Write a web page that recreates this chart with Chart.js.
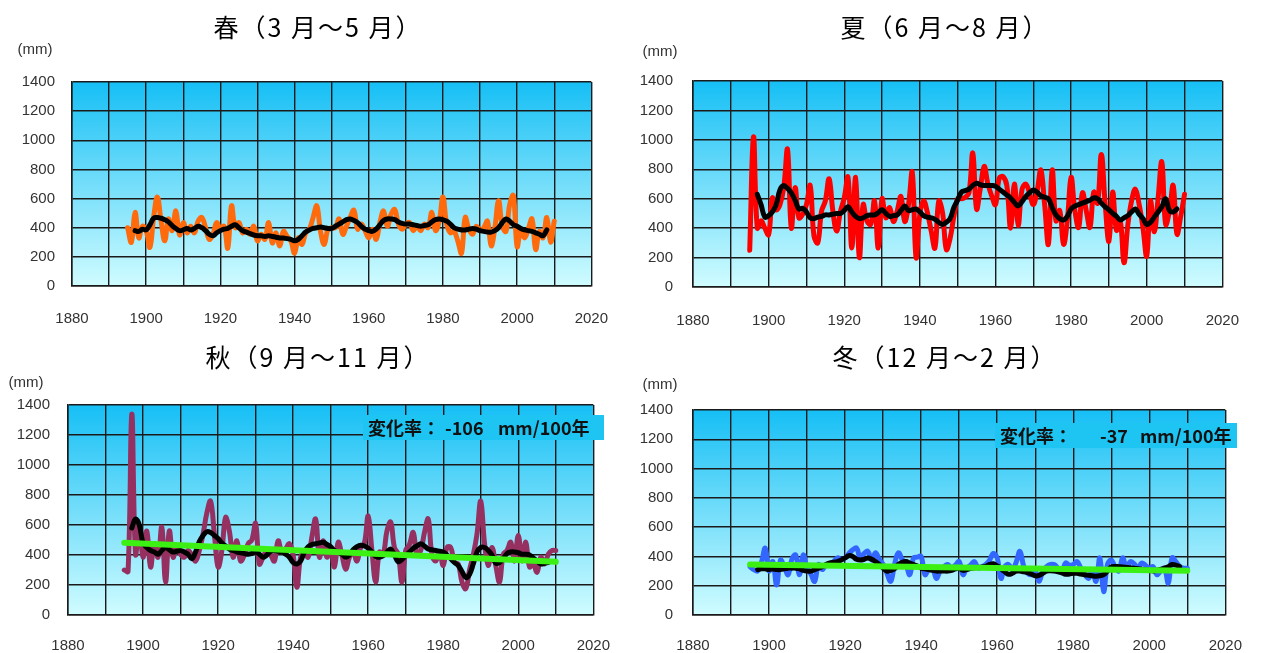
<!DOCTYPE html>
<html>
<head>
<meta charset="utf-8">
<script src="https://cdn.jsdelivr.net/npm/chart.js@4"></script>
<style>
  body { margin: 0; background: #fff; width: 1264px; height: 653px; overflow: hidden; position: relative; }
  canvas { position: absolute; }
</style>
</head>
<body>
<canvas id="spring" width="632" height="330" style="left:0;top:0"></canvas>
<canvas id="summer" width="632" height="330" style="left:632px;top:0"></canvas>
<canvas id="autumn" width="632" height="323" style="left:0;top:330px"></canvas>
<canvas id="winter" width="632" height="323" style="left:632px;top:330px"></canvas>
<script>
// yearly seasonal precipitation (mm), 1895-2010
const firstYear = 1895;
// 5-year running means, 1897-2008
const maFirstYear = 1897;

const springRain = [
  400, 300, 505, 330, 410, 380, 265, 470, 610, 450,
  310, 460, 380, 515, 350, 435, 365, 410, 365, 445,
  470, 400, 320, 355, 435, 390, 410, 260, 550, 400,
  435, 365, 390, 355, 410, 310, 355, 320, 435, 295,
  365, 275, 375, 340, 310, 225, 330, 285, 365, 390,
  470, 550, 375, 285, 390, 400, 400, 460, 355, 410,
  470, 520, 390, 425, 380, 330, 390, 320, 435, 515,
  410, 490, 525, 425, 390, 425, 435, 380, 410, 380,
  425, 400, 505, 380, 445, 610, 425, 365, 375, 310,
  225, 470, 390, 355, 410, 380, 400, 445, 275, 400,
  585, 410, 375, 560, 620, 270, 380, 330, 390, 460,
  250, 375, 330, 470, 300, 445
];
const springAvg = [
  380, 375, 390, 385, 420, 465, 470, 465, 455, 440,
  415, 395, 380, 385, 395, 385, 395, 410, 400, 380,
  355, 345, 365, 380, 390, 395, 410, 420, 400, 380,
  370, 360, 350, 345, 345, 340, 345, 340, 335, 330,
  330, 325, 320, 310, 320, 345, 370, 385, 395, 400,
  405, 400, 395, 395, 410, 425, 440, 455, 460, 450,
  435, 410, 390, 380, 375, 390, 420, 450, 460, 460,
  455, 440, 430, 425, 425, 420, 415, 410, 415, 420,
  440, 455, 460, 455, 445, 425, 400, 390, 385, 385,
  390, 395, 390, 380, 375, 370, 370, 380, 400, 435,
  460, 445, 420, 410, 395, 385, 380, 375, 365, 355,
  345, 385
];

const summerRain = [
  250, 1020, 400, 450, 400, 355, 605, 525, 560, 675,
  935, 400, 675, 470, 495, 560, 690, 345, 300, 515,
  585, 735, 515, 380, 515, 605, 745, 265, 745, 200,
  560, 450, 425, 585, 265, 600, 470, 540, 445, 515,
  615, 445, 560, 780, 200, 495, 585, 505, 380, 265,
  585, 505, 255, 330, 480, 600, 600, 610, 640, 910,
  530, 670, 820, 700, 620, 560, 740, 750, 690, 400,
  700, 420, 660, 700, 640, 560, 650, 795, 560, 290,
  795, 450, 520, 290, 450, 745, 520, 405, 640, 520,
  405, 645, 570, 900, 570, 310, 645, 385, 450, 165,
  420, 585, 665, 560, 405, 210, 585, 375, 600, 850,
  425, 515, 690, 360, 480, 630
];
const summerAvg = [
  630, 560, 475, 485, 510, 560, 660, 690, 670, 640,
  590, 530, 535, 510, 470, 465, 475, 480, 490, 490,
  495, 500, 500, 520, 545, 510, 480, 465, 470, 485,
  490, 490, 505, 525, 500, 480, 485, 490, 520, 550,
  520, 525, 530, 510, 485, 475, 470, 460, 440, 425,
  440, 465, 540, 590, 645, 655, 665, 690, 705, 695,
  690, 690, 690, 685, 665, 645, 625, 605, 575, 550,
  580, 615, 640, 660, 645, 620, 610, 600, 540, 490,
  465, 455, 480, 530, 550, 560, 570, 580, 590, 605,
  600, 570, 545, 525, 500, 480, 455, 470, 485, 510,
  530, 495, 465, 425, 440, 475, 510, 545, 600, 520,
  510, 530
];

const autumnRain = [
  300, 290, 1340, 405, 585, 385, 560, 320, 475, 385,
  585, 220, 560, 385, 450, 405, 385, 430, 400, 360,
  430, 540, 680, 760, 540, 320, 430, 650, 560, 385,
  495, 360, 400, 475, 500, 610, 340, 385, 430, 400,
  360, 495, 420, 440, 475, 400, 185, 385, 420, 385,
  520, 640, 385, 495, 385, 450, 320, 485, 400, 305,
  385, 420, 360, 450, 480, 660, 430, 220, 420, 405,
  560, 620, 450, 405, 220, 430, 470, 550, 405, 430,
  550, 640, 400, 360, 420, 330, 450, 450, 350, 340,
  220, 175, 300, 400, 540, 760, 480, 330, 450, 330,
  220, 405, 430, 485, 360, 530, 360, 485, 320, 340,
  285, 385, 340, 405, 430, 430
];
const autumnAvg = [
  580, 640, 600, 480, 450, 430, 420, 405, 430, 450,
  435, 420, 425, 430, 420, 405, 375, 420, 490, 530,
  555, 550, 530, 510, 480, 460, 440, 430, 420, 415,
  410, 405, 410, 420, 405, 385, 400, 425, 430, 425,
  420, 405, 385, 350, 340, 360, 420, 455, 470, 475,
  480, 485, 470, 455, 430, 420, 405, 385, 400, 435,
  455, 465, 460, 445, 420, 390, 385, 395, 420, 440,
  400, 355, 370, 395, 420, 445, 460, 475, 460, 440,
  435, 430, 425, 420, 400, 375, 350, 330, 290, 250,
  270, 340, 420, 450, 450, 430, 400, 345, 350, 375,
  410, 420, 420, 415, 405, 405, 400, 380, 360, 340,
  345, 350
];
const autumnTrend = [482, 355]; // 1895 and 2010 ends of the linear trend

const winterRain = [
  330, 310, 300, 360, 457, 300, 365, 205, 375, 330,
  275, 380, 410, 275, 410, 320, 280, 230, 345, 310,
  345, 350, 365, 390, 380, 390, 420, 445, 457, 390,
  420, 435, 375, 425, 380, 345, 285, 230, 345, 425,
  380, 345, 275, 390, 395, 400, 275, 310, 320, 250,
  300, 330, 345, 320, 340, 365, 275, 320, 340, 365,
  320, 330, 345, 375, 420, 390, 250, 330, 345, 310,
  360, 435, 330, 285, 275, 300, 230, 300, 330, 345,
  345, 320, 300, 355, 340, 345, 365, 320, 280, 250,
  300, 230, 390, 160, 345, 375, 330, 300, 390, 320,
  365, 350, 320, 355, 340, 320, 330, 275, 300, 320,
  218, 390, 365, 330, 320, 320
];
const winterAvg = [
  310, 315, 315, 310, 315, 310, 310, 315, 320, 320,
  320, 315, 305, 300, 300, 310, 320, 330, 345, 355,
  360, 365, 375, 390, 405, 400, 380, 375, 380, 390,
  380, 365, 345, 320, 300, 305, 315, 345, 360, 365,
  355, 345, 335, 320, 315, 310, 305, 300, 300, 300,
  300, 305, 315, 320, 305, 310, 318, 322, 325, 328,
  332, 345, 350, 335, 315, 295, 278, 285, 300, 300,
  295, 290, 280, 268, 270, 285, 300, 302, 300, 295,
  288, 278, 280, 285, 285, 280, 275, 272, 268, 265,
  268, 275, 300, 328, 332, 330, 328, 325, 322, 320,
  316, 312, 308, 305, 300, 305, 312, 320, 330, 345,
  340, 330
];
const winterTrend = [345, 303];

const trendYears = [1895, 2010];
const xTicks = [1880, 1900, 1920, 1940, 1960, 1980, 2000, 2020];
const yTicks = [0, 200, 400, 600, 800, 1000, 1200, 1400];

function toPoints(start, vals) {
  return vals.map((v, i) => ({ x: start + i, y: v }));
}

const tickFont = { family: "'Liberation Sans', Arial, sans-serif", size: 15 };

const gradientBg = {
  id: 'gradientBg',
  beforeDraw(chart) {
    const a = chart.chartArea;
    const ctx = chart.ctx;
    const g = ctx.createLinearGradient(0, a.top, 0, a.bottom);
    g.addColorStop(0, '#16bff5');
    g.addColorStop(1, '#d0fcff');
    ctx.save();
    ctx.fillStyle = g;
    ctx.fillRect(a.left, a.top, a.right - a.left, a.bottom - a.top);
    ctx.restore();
  }
};

const panelText = {
  id: 'panelText',
  beforeDatasetsDraw(chart, args, opts) {
    if (!opts.rate) return;
    const ctx = chart.ctx;
    const r = opts.rate;
    ctx.save();
    ctx.fillStyle = '#1ec4f2';
    ctx.fillRect(r.box[0], r.box[1], r.box[2], r.box[3]);
    ctx.fillStyle = '#111';
    ctx.textBaseline = 'middle';
    ctx.font = "bold 18px 'Noto Sans CJK JP', sans-serif";
    ctx.fillText('変化率：', r.label, r.y);
    ctx.fillText(r.value, r.valueX, r.y);
    ctx.fillText('mm/100年', r.unitX, r.y);
    ctx.restore();
  },
  afterDraw(chart, args, opts) {
    const ctx = chart.ctx;
    ctx.save();
    ctx.fillStyle = '#000';
    ctx.textAlign = 'center';
    ctx.textBaseline = 'middle';
    ctx.font = "400 25px 'Noto Sans CJK JP', sans-serif";
    ctx.letterSpacing = '2px';
    ctx.fillText(opts.title, opts.titleX, 27);
    ctx.letterSpacing = '0px';
    ctx.fillStyle = '#333';
    ctx.font = "15px 'Liberation Sans', Arial, sans-serif";
    ctx.fillText('(mm)', opts.unitX, opts.unitY);
    ctx.restore();
  }
};

function drawPanel(id, title, rain, color, avg, trend, geo) {
  const datasets = [{
    data: toPoints(firstYear, rain),
    borderColor: color,
    borderWidth: 5,
    order: 3
  }, {
    data: toPoints(maFirstYear, avg),
    borderColor: '#000',
    borderWidth: 5,
    order: 2
  }];
  if (trend) {
    datasets.push({
      data: [{ x: trendYears[0], y: trend[0] }, { x: trendYears[1], y: trend[1] }],
      borderColor: '#3cf014',
      borderWidth: 6,
      tension: 0,
      order: 1
    });
  }

  new Chart(document.getElementById(id), {
    type: 'line',
    data: { datasets: datasets },
    options: {
      responsive: false,
      animation: false,
      layout: { padding: { top: geo.top, right: geo.right, left: 0, bottom: 0 } },
      elements: {
        point: { radius: 0 },
        line: { tension: 0.4, borderCapStyle: 'round', borderJoinStyle: 'round' }
      },
      scales: {
        x: {
          type: 'linear', min: 1880, max: 2020,
          afterFit: s => { s.height = geo.xh; },
          afterBuildTicks: s => {
            const t = [];
            for (let v = 1880; v <= 2020; v += 10) t.push({ value: v });
            s.ticks = t;
          },
          grid: { color: '#1a1a1a', lineWidth: 1.4, drawTicks: false },
          border: { color: '#1a1a1a', width: 1.5 },
          ticks: {
            padding: geo.xPad, color: '#333', font: tickFont,
            autoSkip: false, maxRotation: 0,
            callback: v => xTicks.includes(v) ? String(v) : ''
          }
        },
        y: {
          min: 0, max: 1400,
          afterFit: s => { s.width = geo.yw; },
          afterBuildTicks: s => { s.ticks = yTicks.map(v => ({ value: v })); },
          grid: { color: '#1a1a1a', lineWidth: 1.4, drawTicks: false },
          border: { color: '#1a1a1a', width: 1.5 },
          ticks: { padding: geo.yPad, color: '#333', font: tickFont, callback: v => String(v) }
        }
      },
      plugins: {
        legend: { display: false },
        tooltip: { enabled: false },
        panelText: {
          title: title, titleX: geo.titleX,
          unitX: geo.unitX, unitY: geo.unitY,
          rate: geo.rate
        }
      }
    },
    plugins: [gradientBg, panelText]
  });
}

drawPanel('spring', '春（3 月～5 月）', springRain, '#ff6a0d', springAvg, null,
  { top: 82, right: 32, xh: 44, yw: 72, xPad: 24, yPad: 17, titleX: 318, unitX: 35, unitY: 50 });

drawPanel('summer', '夏（6 月～8 月）', summerRain, '#ff0000', summerAvg, null,
  { top: 81, right: 20, xh: 43, yw: 61, xPad: 25, yPad: 20, titleX: 313, unitX: 28, unitY: 52 });

drawPanel('autumn', '秋（9 月～11 月）', autumnRain, '#953060', autumnAvg, autumnTrend,
  { top: 75, right: 28, xh: 38, yw: 68, xPad: 22, yPad: 18, titleX: 318, unitX: 26, unitY: 53,
    rate: { box: [363, 85, 241, 25], label: 368, value: '-106', valueX: 445, unitX: 498, y: 98 } });

drawPanel('winter', '冬（12 月～2 月）', winterRain, '#3366ff', winterAvg, winterTrend,
  { top: 80, right: 22, xh: 38, yw: 61, xPad: 22, yPad: 20, titleX: 313, unitX: 28, unitY: 55,
    rate: { box: [363, 93, 242, 25], label: 368, value: '-37', valueX: 468, unitX: 508, y: 106 } });
</script>
</body>
</html>
